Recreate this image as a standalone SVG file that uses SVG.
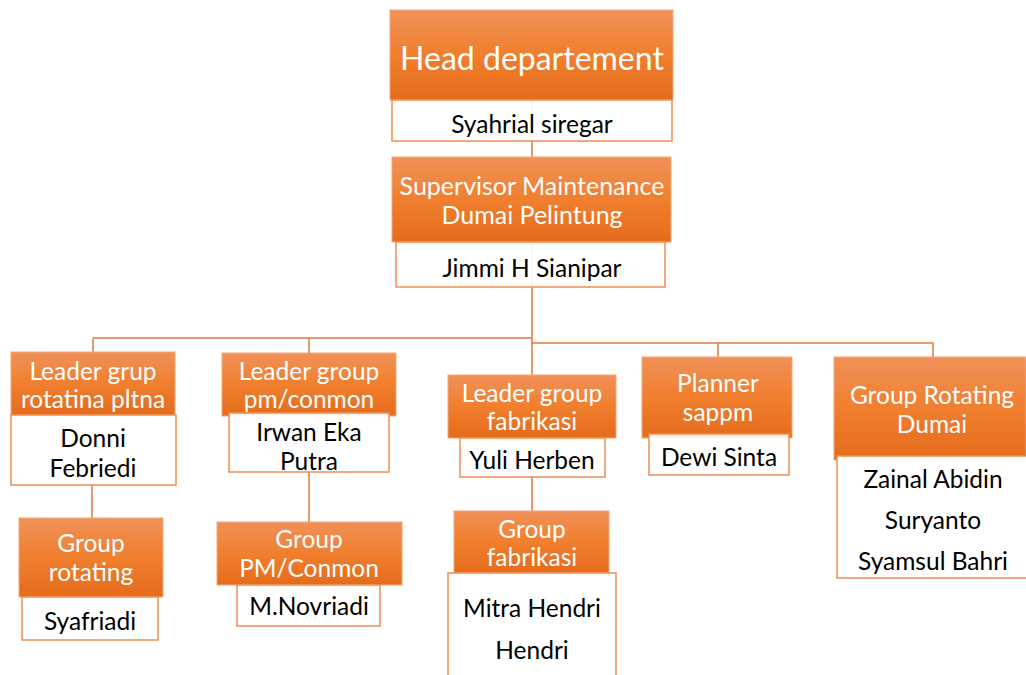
<svg xmlns="http://www.w3.org/2000/svg" width="1026" height="675" viewBox="0 0 1026 675">
<defs>
<linearGradient id="og" x1="0" y1="0" x2="0" y2="1">
<stop offset="0" stop-color="#F19159"/>
<stop offset="0.5" stop-color="#F07F2E"/>
<stop offset="1" stop-color="#E46C1C"/>
</linearGradient>
</defs>
<style>
.o{fill:url(#og);stroke:#F4A878;stroke-width:1}
.w{fill:#fff;stroke:#EE8E50;stroke-width:1.5}
.t{font-family:Lato,"Open Sans",sans-serif;fill:#fff;text-anchor:middle;font-size:24.5px}
.n{font-family:Lato,"Open Sans",sans-serif;fill:#000;text-anchor:middle;font-size:24.5px}
.c{fill:none;stroke:#E07A3C;stroke-width:1.5}
</style>
<rect width="1026" height="675" fill="#fff"/>
<g id="connectors">
<path class="c" d="M532 100V338M93 338H532M532 338V343H933V357M532 343V375M718 343V357M93 338V352M309 338V353"/>
<path class="c" d="M92 485V518M309 472V522M532 477V511"/>
</g>
<g id="head">
<rect class="o" x="390" y="10" width="283" height="90"/>
<rect class="w" x="392" y="100" width="280" height="41" fill-opacity="0.92"/>
<text class="t" x="532" y="70" style="font-size:32px">Head departement</text>
<text class="n" x="532" y="133">Syahrial siregar</text>
</g>
<g id="supervisor">
<rect class="o" x="392" y="157" width="279" height="85"/>
<rect class="w" x="396" y="242" width="269" height="45" fill-opacity="0.92"/>
<text class="t" x="532" y="195" style="font-size:25px">Supervisor Maintenance</text>
<text class="t" x="532" y="224" style="font-size:25px">Dumai Pelintung</text>
<text class="n" x="532" y="277">Jimmi H Sianipar</text>
</g>
<g id="leader-rotating">
<rect class="o" x="11" y="352" width="164" height="63"/>
<rect class="w" x="11" y="415" width="165" height="70" fill-opacity="0.92"/>
<text class="t" x="93" y="380">Leader grup</text>
<text class="t" x="93" y="408">rotatina pltna</text>
<text class="n" x="93" y="447">Donni</text>
<text class="n" x="93" y="477">Febriedi</text>
</g>
<g id="leader-pm">
<rect class="o" x="222" y="353" width="174" height="63"/>
<rect class="w" x="229" y="413" width="160" height="59" fill-opacity="0.92"/>
<text class="t" x="309" y="380">Leader group</text>
<text class="t" x="309" y="408">pm/conmon</text>
<text class="n" x="309" y="441">Irwan Eka</text>
<text class="n" x="309" y="470">Putra</text>
</g>
<g id="leader-fabrikasi">
<rect class="o" x="448" y="375" width="168" height="63"/>
<rect class="w" x="460" y="438" width="145" height="39" fill-opacity="0.92"/>
<text class="t" x="532" y="402">Leader group</text>
<text class="t" x="532" y="430">fabrikasi</text>
<text class="n" x="532" y="469">Yuli Herben</text>
</g>
<g id="planner">
<rect class="o" x="642" y="357" width="150" height="81"/>
<rect class="w" x="649" y="434" width="140" height="41" fill-opacity="0.92"/>
<text class="t" x="718" y="392">Planner</text>
<text class="t" x="718" y="421">sappm</text>
<text class="n" x="719" y="466">Dewi Sinta</text>
</g>
<g id="group-rotating-dumai">
<rect class="o" x="834" y="357" width="192" height="103"/>
<rect class="w" x="837" y="456" width="190" height="122"/>
<text class="t" x="932" y="404">Group Rotating</text>
<text class="t" x="932" y="433">Dumai</text>
<text class="n" x="933" y="488">Zainal Abidin</text>
<text class="n" x="933" y="529">Suryanto</text>
<text class="n" x="933" y="570">Syamsul Bahri</text>
</g>
<g id="group-rotating">
<rect class="o" x="19" y="518" width="144" height="79"/>
<rect class="w" x="22" y="597" width="136" height="43"/>
<text class="t" x="91" y="552">Group</text>
<text class="t" x="91" y="581">rotating</text>
<text class="n" x="90" y="630">Syafriadi</text>
</g>
<g id="group-pm">
<rect class="o" x="217" y="522" width="185" height="63"/>
<rect class="w" x="237" y="585" width="143" height="41"/>
<text class="t" x="309" y="548">Group</text>
<text class="t" x="309" y="577">PM/Conmon</text>
<text class="n" x="309" y="615">M.Novriadi</text>
</g>
<g id="group-fabrikasi">
<rect class="o" x="454" y="511" width="155" height="62"/>
<rect class="w" x="448" y="573" width="168" height="110"/>
<text class="t" x="532" y="538">Group</text>
<text class="t" x="532" y="566">fabrikasi</text>
<text class="n" x="532" y="617">Mitra Hendri</text>
<text class="n" x="532" y="659">Hendri</text>
</g>
</svg>
